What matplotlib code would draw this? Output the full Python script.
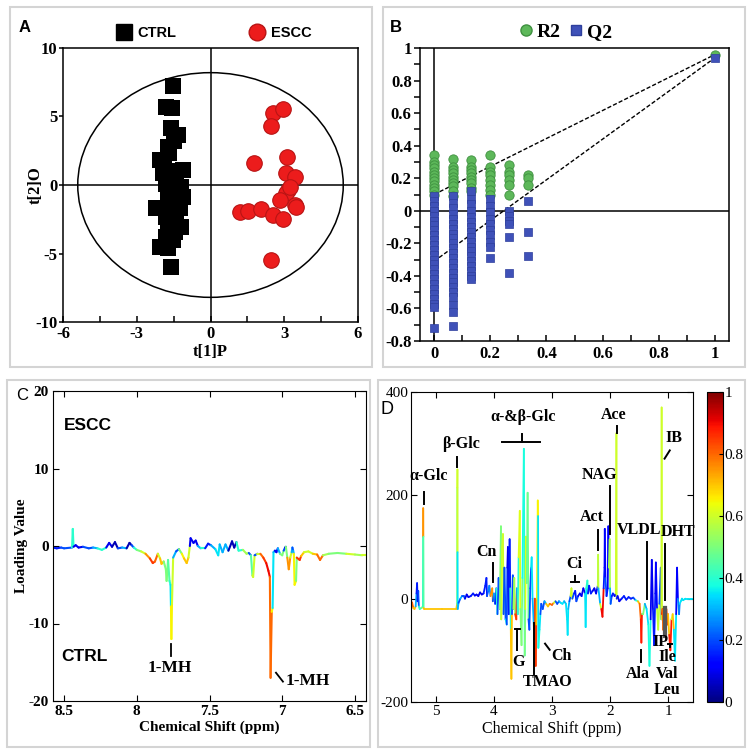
import numpy as np
import matplotlib
matplotlib.use('Agg')
import matplotlib.pyplot as plt
from matplotlib.collections import LineCollection
from matplotlib.colors import Normalize
from matplotlib.patches import Ellipse, Rectangle
from matplotlib.lines import Line2D
import matplotlib.ticker as mt
import matplotlib.colorbar as mcb

plt.rcParams['axes.unicode_minus'] = False
SERIF = 'Liberation Serif'
SANS = 'Liberation Sans'

# ---------------- Panel A data (OPLS-DA scores) ----------------
ctrl_x = [-1.53, -1.82, -1.57, -1.60, -1.32, -1.73, -2.07, -1.12, -1.93, -1.53, -1.19, -1.73,
          -1.12, -1.66, -2.20, -1.25, -1.80, -1.39, -1.19, -1.73, -1.53, -2.07, -1.73, -1.60,
          -1.50, -1.70, -1.90, -1.60, -1.40, -1.80, -1.50, -1.35, -1.70, -1.50, -1.65, -1.45,
          -1.80, -1.35, -1.60]
ctrl_y = [7.24, 5.70, 5.60, 4.15, 3.66, 2.80, 1.83, 1.10, 0.85, 0.37, -0.12, -0.49,
          -0.85, -1.20, -1.70, -1.70, -2.30, -2.70, -3.05, -3.17, -4.00, -4.50, -4.63, -5.98,
          3.20, 2.30, 1.30, 1.00, 0.60, 0.10, -0.40, -1.00, -1.50, -2.00, -2.70, -3.40,
          -3.80, -1.40, -0.90]
escc_x = [2.54, 2.95, 2.47, 1.76, 3.11, 3.06, 3.42, 3.15, 3.08, 2.81, 3.42, 3.49, 1.19, 1.53,
          2.07, 2.54, 2.95, 2.47, 3.22]
escc_y = [5.24, 5.54, 4.32, 1.63, 2.07, 0.85, 0.61, -0.37, -0.61, -1.10, -1.46, -1.59, -2.00,
          -1.88, -1.78, -2.20, -2.49, -5.49, -0.12]
ellipse_half_axes = (5.4, 8.2)

# ---------------- Panel B data (permutation test) ----------------
perm_x = [0.0, 0.067, 0.133, 0.2, 0.267, 0.333]
r2_cols = [
    [0.34, 0.30, 0.28, 0.26, 0.24, 0.22, 0.20, 0.18, 0.16, 0.14, 0.12, 0.10],
    [0.32, 0.27, 0.25, 0.23, 0.21, 0.19, 0.17, 0.15, 0.12, 0.09],
    [0.31, 0.27, 0.25, 0.23, 0.21, 0.19, 0.17, 0.14, 0.12],
    [0.34, 0.27, 0.24, 0.22, 0.19, 0.16, 0.13, 0.10],
    [0.28, 0.24, 0.22, 0.19, 0.16, 0.10],
    [0.22, 0.20, 0.16],
]
q2_cols = [
    [0.09, 0.06, 0.03, 0.0, -0.03, -0.06, -0.09, -0.12, -0.15, -0.18, -0.21, -0.24, -0.27,
     -0.30, -0.33, -0.36, -0.39, -0.42, -0.45, -0.48, -0.51, -0.54, -0.57, -0.59, -0.72],
    [0.09, 0.05, 0.02, -0.02, -0.05, -0.08, -0.11, -0.14, -0.17, -0.20, -0.23, -0.26, -0.29,
     -0.32, -0.35, -0.38, -0.41, -0.44, -0.47, -0.50, -0.53, -0.58, -0.62, -0.71],
    [0.12, 0.07, 0.04, 0.0, -0.04, -0.07, -0.10, -0.13, -0.16, -0.19, -0.22, -0.25, -0.28,
     -0.31, -0.34, -0.37, -0.40, -0.42],
    [0.07, 0.03, -0.01, -0.05, -0.08, -0.12, -0.15, -0.19, -0.22, -0.29],
    [0.0, -0.03, -0.06, -0.08, -0.16, -0.38],
    [0.06, -0.13, -0.28],
]
orig_x = 1.0
orig_r2 = 0.96
orig_q2 = 0.94
r2_intercept = 0.10
q2_intercept = -0.31

# ---------------- Panel C data (aromatic loadings) ----------------
c_ppm = [8.58, 8.55, 8.52, 8.50, 8.445, 8.44, 8.435, 8.42, 8.40, 8.37,
         8.33, 8.30, 8.27, 8.24, 8.21, 8.19, 8.17, 8.15, 8.13, 8.10,
         8.07, 8.05, 8.035, 8.02, 8.0, 7.97, 7.94, 7.91, 7.89, 7.875,
         7.855, 7.84, 7.83, 7.815, 7.80, 7.795, 7.785, 7.775, 7.768, 7.765,
         7.762, 7.758, 7.75, 7.73, 7.71, 7.69, 7.675, 7.657, 7.645, 7.635,
         7.63, 7.61, 7.595, 7.58, 7.56, 7.53, 7.51, 7.49, 7.46, 7.44,
         7.43, 7.41, 7.39, 7.37, 7.345, 7.33, 7.315, 7.30, 7.27, 7.245,
         7.23, 7.215, 7.205, 7.20, 7.19, 7.17, 7.15, 7.13, 7.11, 7.095,
         7.085, 7.08, 7.072, 7.066, 7.06, 7.05, 7.04, 7.03, 7.015, 7.0,
         6.99, 6.98, 6.975, 6.965, 6.955, 6.945, 6.935, 6.93, 6.925, 6.92,
         6.915, 6.905, 6.90, 6.88, 6.87, 6.85, 6.82, 6.79, 6.76, 6.74,
         6.72, 6.68, 6.62, 6.56, 6.50, 6.45, 6.42]
c_val = [-0.2, -0.3, -0.2, -0.3, -0.2, 2.2, -0.1, 0.1, -0.2, -0.1,
         -0.3, -0.2, -0.3, -0.5, -0.2, 0.4, -0.1, 0.5, -0.3, -0.2,
         -0.3, 0.4, 0.1, -0.2, -0.5, -0.7, -1.0, -1.6, -2.2, -2.0,
         -1.0, -1.6, -2.3, -2.0, -3.0, -4.5, -1.8, -4.5, -5.0, -7.8,
         -12.0, -7.5, -1.5, -0.7, -0.4, -1.0, -1.6, -2.2, -1.5, 0.0,
         1.0, 0.4, 0.7, 0.0, -0.3, -0.3, 0.3, 0.1, -0.4, -1.2,
         0.2, -0.8, 0.2, -0.6, 0.6, -0.2, 0.5, -0.6, -0.5, -1.0,
         -0.9, -1.2, -3.8, -4.0, -1.2, -1.0, -1.0, -1.5, -2.2, -3.2,
         -4.0, -17.0, -8.5, -8.0, -0.8, -0.6, -0.8, -0.3, -1.0, -1.2,
         -0.6, -0.2, -0.1, -1.5, -3.0, -1.5, -0.8, -0.2, -0.6, -1.0,
         -5.0, -4.5, -1.5, -1.8, -1.3, -0.8, -0.7, -1.0, -1.1, -1.8,
         -1.2, -1.0, -0.9, -1.0, -1.1, -1.2, -1.2]
c_w = [0.10, 0.15, 0.10, 0.20, 0.30, 0.40, 0.30, 0.10, 0.10, 0.15,
       0.20, 0.10, 0.30, 0.40, 0.30, 0.10, 0.10, 0.05, 0.20, 0.30,
       0.30, 0.05, 0.10, 0.20, 0.40, 0.50, 0.60, 0.75, 0.85, 0.80,
       0.55, 0.60, 0.70, 0.55, 0.50, 0.50, 0.40, 0.45, 0.40, 0.35,
       0.65, 0.60, 0.30, 0.20, 0.15, 0.50, 0.65, 0.70, 0.60, 0.20,
       0.10, 0.20, 0.10, 0.20, 0.30, 0.40, 0.15, 0.20, 0.30, 0.35,
       0.10, 0.30, 0.10, 0.30, 0.05, 0.10, 0.05, 0.40, 0.50, 0.55,
       0.40, 0.20, 0.45, 0.60, 0.20, 0.30, 0.60, 0.80, 0.85, 0.90,
       0.90, 0.80, 0.65, 0.35, 0.30, 0.20, 0.10, 0.10, 0.30, 0.50,
       0.20, 0.10, 0.10, 0.50, 0.75, 0.60, 0.30, 0.10, 0.20, 0.30,
       0.65, 0.50, 0.50, 0.85, 0.70, 0.60, 0.55, 0.60, 0.70, 0.80,
       0.55, 0.50, 0.55, 0.50, 0.60, 0.55, 0.60]

# ---------------- Panel D data (aliphatic loadings) ----------------
d_ppm = [5.43, 5.41, 5.39, 5.37, 5.35, 5.335, 5.325, 5.315, 5.305, 5.295,
         5.28, 5.25, 5.225, 5.222, 5.22, 5.217, 5.213, 5.20, 4.90, 4.65,
         4.635, 4.632, 4.63, 4.628, 4.625, 4.61, 4.58, 4.55, 4.52, 4.50,
         4.47, 4.44, 4.40, 4.36, 4.33, 4.30, 4.27, 4.24, 4.21, 4.18,
         4.15, 4.13, 4.12, 4.10, 4.08, 4.06, 4.03, 4.02, 4.00, 3.98,
         3.96, 3.94, 3.92, 3.90, 3.88, 3.875, 3.86, 3.845, 3.835, 3.82,
         3.80, 3.78, 3.77, 3.76, 3.745, 3.73, 3.72, 3.71, 3.70, 3.69,
         3.675, 3.665, 3.65, 3.635, 3.615, 3.605, 3.59, 3.575, 3.555, 3.545,
         3.525, 3.51, 3.485, 3.47, 3.46, 3.45, 3.435, 3.42, 3.405, 3.39,
         3.375, 3.36, 3.35, 3.335, 3.31, 3.295, 3.28, 3.27, 3.26, 3.245,
         3.24, 3.235, 3.215, 3.20, 3.185, 3.16, 3.13, 3.10, 3.07, 3.04,
         3.00, 2.97, 2.94, 2.91, 2.88, 2.85, 2.82, 2.79, 2.76, 2.74,
         2.73, 2.72, 2.70, 2.68, 2.665, 2.65, 2.62, 2.60, 2.58, 2.55,
         2.52, 2.49, 2.46, 2.43, 2.42, 2.41, 2.39, 2.38, 2.36, 2.33,
         2.30, 2.27, 2.24, 2.21, 2.205, 2.20, 2.17, 2.15, 2.13, 2.11,
         2.095, 2.09, 2.08, 2.06, 2.04, 2.03, 2.02, 2.005, 2.00, 1.99,
         1.97, 1.95, 1.92, 1.90, 1.89, 1.885, 1.87, 1.84, 1.80, 1.76,
         1.72, 1.68, 1.64, 1.60, 1.56, 1.52, 1.49, 1.47, 1.46, 1.45,
         1.43, 1.40, 1.37, 1.34, 1.32, 1.30, 1.28, 1.26, 1.24, 1.22,
         1.21, 1.19, 1.17, 1.15, 1.125, 1.115, 1.11, 1.105, 1.095, 1.085,
         1.07, 1.06, 1.04, 1.03, 1.01, 1.00, 0.98, 0.96, 0.94, 0.92,
         0.90, 0.88, 0.86, 0.845, 0.83, 0.81, 0.80, 0.78, 0.76, 0.74,
         0.70, 0.65, 0.60, 0.57]
d_val = [-5, -8, -18, -20, -15, 10, 30, -5, 15, -15,
         -20, -18, -15, 120, 175, 120, -18, -20, -20, -20,
         -10, 215, 250, 90, -20, -8, 0, 5, 5, 0,
         8, 3, 5, 10, 6, 8, 5, 12, 8, 10,
         25, 40, 5, 15, 25, 5, 20, -5, 10, -10,
         20, -30, 40, -20, 140, -40, 100, 125, -30, 60,
         -40, -50, 60, 100, -30, 115, 20, -60, -155, -30,
         45, -20, 40, -30, -40, 20, -30, 80, 170, -20,
         -90, 40, 290, -110, -20, 120, 30, 205, -40, -60,
         20, 60, 80, 0, -60, 0, -130, -50, 0, 190,
         160, -95, -60, -30, -10, -20, -5, -10, -15, -10,
         -12, -8, -5, -10, -5, -8, -10, -5, -10, -40,
         -70, -20, -5, 5, 20, 0, 10, 15, -5, 5,
         10, 5, 20, 10, -55, 20, 35, 10, 25, 10,
         15, 20, 10, 25, 85, 20, -10, -20, -35, 20,
         60, 135, 40, 5, 20, 140, 60, 115, 20, -10,
         5, 10, 5, 10, 320, 0, 5, -5, 0, 5,
         -2, 3, 0, 2, -3, -5, -10, -40, -85, -30,
         -30, -10, -20, -50, -130, -40, 75, -20, -90, 10,
         70, -20, -60, -10, 60, -40, 370, -30, -20, -60,
         -45, -30, -60, -20, -50, -30, -70, -100, -40, -30,
         -60, -120, -30, 60, 0, -30, -10, -5, 0, -3,
         0, 0, 0, 0]
d_w = [0.80, 0.85, 0.80, 0.70, 0.30, 0.20, 0.15, 0.15, 0.10, 0.20,
       0.40, 0.50, 0.40, 0.40, 0.75, 0.45, 0.40, 0.70, 0.70, 0.70,
       0.30, 0.50, 0.60, 0.35, 0.30, 0.20, 0.45, 0.30, 0.20, 0.15,
       0.10, 0.15, 0.10, 0.15, 0.20, 0.10, 0.15, 0.10, 0.20, 0.10,
       0.15, 0.15, 0.20, 0.20, 0.25, 0.30, 0.75, 0.40, 0.20, 0.30,
       0.15, 0.40, 0.20, 0.50, 0.50, 0.40, 0.60, 0.60, 0.40, 0.20,
       0.35, 0.35, 0.20, 0.10, 0.20, 0.15, 0.10, 0.40, 0.70, 0.50,
       0.20, 0.30, 0.55, 0.70, 0.85, 0.30, 0.30, 0.40, 0.62, 0.50,
       0.50, 0.20, 0.38, 0.50, 0.20, 0.62, 0.30, 0.48, 0.30, 0.20,
       0.10, 0.20, 0.35, 0.20, 0.30, 0.40, 0.85, 0.70, 0.40, 0.65,
       0.35, 0.38, 0.35, 0.20, 0.15, 0.20, 0.15, 0.30, 0.70, 0.50,
       0.80, 0.60, 0.30, 0.20, 0.15, 0.30, 0.35, 0.30, 0.30, 0.35,
       0.35, 0.30, 0.20, 0.20, 0.60, 0.30, 0.20, 0.15, 0.10, 0.20,
       0.10, 0.15, 0.10, 0.10, 0.35, 0.30, 0.40, 0.20, 0.15, 0.10,
       0.15, 0.10, 0.15, 0.10, 0.58, 0.30, 0.40, 0.60, 0.90, 0.30,
       0.15, 0.12, 0.20, 0.20, 0.15, 0.12, 0.20, 0.55, 0.30, 0.20,
       0.10, 0.15, 0.10, 0.10, 0.60, 0.20, 0.15, 0.10, 0.10, 0.15,
       0.10, 0.15, 0.10, 0.15, 0.20, 0.40, 0.70, 0.80, 0.88, 0.70,
       0.50, 0.20, 0.30, 0.35, 0.38, 0.20, 0.10, 0.10, 0.15, 0.10,
       0.12, 0.20, 0.58, 0.30, 0.20, 0.50, 0.60, 0.90, 0.60, 0.80,
       0.88, 0.60, 0.80, 0.40, 0.85, 0.70, 0.70, 0.88, 0.60, 0.80,
       0.70, 0.35, 0.30, 0.12, 0.20, 0.25, 0.35, 0.35, 0.35, 0.35,
       0.35, 0.35, 0.35, 0.35]

# Panel D annotations: (text, x_ppm, y_value, ha)
d_labels = [('α-Glc', 5.13, 237, 'center'), ('β-Glc', 4.56, 300, 'center'),
            ('α-&β-Glc', 3.50, 352, 'center'), ('Cn', 4.13, 90, 'center'),
            ('Ci', 2.62, 68, 'center'), ('Act', 2.32, 158, 'center'),
            ('NAG', 2.19, 240, 'center'), ('Ace', 1.93, 356, 'center'),
            ('IB', 0.90, 310, 'center'), ('VLDL', 1.50, 132, 'center'),
            ('DHT', 0.83, 129, 'center'), ('Ala', 1.52, -145, 'center'),
            ('G', 3.58, -123, 'center'), ('TMAO', 3.08, -161, 'center'),
            ('Ch', 2.84, -110, 'center'), ('IP', 1.13, -84, 'center'),
            ('Ile', 1.01, -113, 'center'), ('Val', 1.01, -145, 'center'),
            ('Leu', 1.01, -177, 'center')]
# marker segments (x0, y0, x1, y1)
d_marks = [(5.21, 206, 5.21, 184), (4.63, 275, 4.63, 255), (3.86, 303, 3.21, 303),
           (3.525, 319, 3.525, 303), (4.02, 69, 4.02, 32), (2.61, 43, 2.61, 32),
           (2.68, 32, 2.53, 32), (2.205, 132, 2.205, 94), (2.0, 219, 2.0, 126),
           (1.88, 334, 1.88, 321), (1.06, 271, 0.97, 287), (1.37, 110, 1.37, 0),
           (1.05, 106, 1.05, -3), (1.46, -100, 1.46, -123), (3.63, -58, 3.56, -58),
           (3.595, -58, 3.595, -99), (3.31, -48, 3.31, -145), (3.12, -87, 3.04, -99),
           (1.005, -87, 0.935, -87), (0.97, -87, 0.97, -94)]
d_gray = [(1.075, -16, 1.075, -74), (1.035, -16, 1.035, -74)]

# C annotations
c_labels = [('1-MH', 7.77, -15.7, 'center'), ('1-MH', 6.975, -17.4, 'left')]
c_marks = [(7.765, -12.6, 7.765, -14.2), (7.043, -16.35, 6.995, -17.5)]

# ---------------- Figure ----------------
W, H = 755, 754
fig = plt.figure(figsize=(W / 100, H / 100), dpi=100)


def box(l, t, r, b):
    return [l / W, 1 - b / H, (r - l) / W, (b - t) / H]


# light grey frames around panels
for (l, t, r, b) in [(10, 7, 372, 367), (383, 7, 745, 367), (7, 380, 370, 747), (378, 380, 745, 747)]:
    fig.add_artist(Rectangle((l / W, 1 - b / H), (r - l) / W, (b - t) / H, transform=fig.transFigure,
                             fill=False, ec='#d4d4d4', lw=1.5))


def style_ticks(ax, size=11, weight='bold'):
    for lab in ax.get_xticklabels() + ax.get_yticklabels():
        lab.set_fontfamily(SERIF)
        lab.set_fontweight(weight)
        lab.set_fontsize(size)


# ---- Panel A ----
axA = fig.add_axes(box(63, 48, 358, 322))
axA.set_xlim(-6, 6)
axA.set_ylim(-10, 10)
axA.axhline(0, color='black', lw=1.1, zorder=1)
axA.axvline(0, color='black', lw=1.1, zorder=1)
axA.add_patch(Ellipse((0, 0), 2 * ellipse_half_axes[0], 2 * ellipse_half_axes[1], fill=False,
                      ec='black', lw=1.1, zorder=1))
axA.scatter(ctrl_x, ctrl_y, marker='s', s=120, c='black', zorder=3, linewidths=0)
axA.scatter(escc_x, escc_y, marker='o', s=125, c='#ec1c1c', edgecolors='#b81414',
            linewidths=0.8, zorder=3)
axA.set_xticks([-6, -3, 0, 3, 6])
axA.set_yticks([-10, -5, 0, 5, 10])
axA.xaxis.set_minor_locator(mt.MultipleLocator(1.5))
axA.tick_params(axis='x', which='both', direction='in', length=4, width=1.1, pad=3)
axA.tick_params(axis='y', which='both', direction='out', length=3, width=1.1, pad=1)
for s in axA.spines.values():
    s.set_linewidth(1.1)
style_ticks(axA, 12)
axA.set_xlabel('t[1]P', fontfamily=SERIF, fontweight='bold', fontsize=12, labelpad=1)
axA.set_ylabel('t[2]O', fontfamily=SERIF, fontweight='bold', fontsize=12)
axA.yaxis.set_label_coords(-0.065, 0.5)
fig.text(25 / W, 1 - 27 / H, 'A', fontfamily=SANS, fontweight='bold', fontsize=12,
         ha='center', va='center')
hA = [Line2D([], [], marker='s', ls='none', color='black', markersize=11),
      Line2D([], [], marker='o', ls='none', color='#ec1c1c', markeredgecolor='#b81414', markersize=12)]
fig.legend(hA, ['CTRL', 'ESCC'], loc='center', bbox_to_anchor=(214 / W, 1 - 33 / H), ncol=2,
           frameon=False, handletextpad=0.45, columnspacing=5.0, handlelength=1.0,
           prop=dict(family=SANS, weight='bold', size=10.5))

# ---- Panel B ----
axB = fig.add_axes(box(420, 48, 729, 341))
axB.set_xlim(-0.05, 1.05)
axB.set_ylim(-0.8, 1.0)
axB.axhline(0, color='black', lw=1.1, zorder=1)
axB.axvline(0, color='black', lw=1.1, zorder=1)
axB.plot([0, orig_x], [r2_intercept, orig_r2], ls=(0, (3, 1.5)), color='black', lw=1.0, zorder=2)
axB.plot([0, orig_x], [q2_intercept, orig_q2], ls=(0, (3, 1.5)), color='black', lw=1.0, zorder=2)
GREEN, GREEN_E = '#5db85a', '#3f9040'
BLUE, BLUE_E = '#3f51b8', '#2e3f9c'
for xv, col in zip(perm_x, r2_cols):
    axB.scatter([xv] * len(col), col, marker='o', s=45, c=GREEN, edgecolors=GREEN_E,
                linewidths=0.6, zorder=3)
axB.scatter([orig_x], [orig_r2], marker='o', s=45, c=GREEN, edgecolors=GREEN_E, linewidths=0.6, zorder=3)
for xv, col in zip(perm_x, q2_cols):
    axB.scatter([xv] * len(col), col, marker='s', s=36, c=BLUE, edgecolors=BLUE_E,
                linewidths=0.5, zorder=4)
axB.scatter([orig_x], [orig_q2], marker='s', s=36, c=BLUE, edgecolors=BLUE_E, linewidths=0.5, zorder=4)
axB.set_xticks([0, 0.2, 0.4, 0.6, 0.8, 1.0])
axB.set_xticklabels(['0', '0.2', '0.4', '0.6', '0.8', '1'])
axB.set_yticks([-0.8, -0.6, -0.4, -0.2, 0, 0.2, 0.4, 0.6, 0.8, 1.0])
axB.set_yticklabels(['-0.8', '-0.6', '-0.4', '-0.2', '0', '0.2', '0.4', '0.6', '0.8', '1'])
axB.xaxis.set_minor_locator(mt.MultipleLocator(0.1))
axB.yaxis.set_minor_locator(mt.MultipleLocator(0.1))
axB.tick_params(axis='x', which='both', direction='in', length=4, width=1.1)
axB.tick_params(axis='y', which='both', direction='out', length=4, width=1.1, pad=2)
for s in axB.spines.values():
    s.set_linewidth(1.1)
style_ticks(axB, 12)
fig.text(396 / W, 1 - 27 / H, 'B', fontfamily=SANS, fontweight='bold', fontsize=12,
         ha='center', va='center')
hB = [Line2D([], [], marker='o', ls='none', color=GREEN, markeredgecolor=GREEN_E, markersize=8),
      Line2D([], [], marker='s', ls='none', color=BLUE, markeredgecolor=BLUE_E, markersize=7)]
fig.legend(hB, ['R2', 'Q2'], loc='center', bbox_to_anchor=(564 / W, 1 - 32 / H), ncol=2,
           frameon=False, handletextpad=0.05, columnspacing=0.3, handlelength=1.0,
           prop=dict(family=SERIF, weight='bold', size=14))


# ---- spectrum helper ----
def draw_spectrum(ax, ppm, val, w, lw=1.3):
    ppm = np.asarray(ppm, float)
    val = np.asarray(val, float)
    w = np.asarray(w, float)
    n = min(len(ppm), len(val), len(w))
    ppm, val, w = ppm[:n], val[:n], w[:n]
    pts = np.column_stack([ppm, val])
    segs = np.stack([pts[:-1], pts[1:]], axis=1)
    a, b = np.abs(val[:-1]), np.abs(val[1:])
    seg_w = np.where(b >= a, w[1:], w[:-1])
    lc = LineCollection(segs, cmap='jet', norm=Normalize(0, 1), linewidths=lw,
                        capstyle='round', joinstyle='round')
    lc.set_array(seg_w)
    ax.add_collection(lc)


# ---- Panel C ----
axC = fig.add_axes(box(53, 391, 366, 701))
draw_spectrum(axC, c_ppm, c_val, c_w, lw=1.5)
axC.set_xlim(8.576, 6.424)
axC.set_ylim(-20, 20)
axC.set_xticks([8.5, 8, 7.5, 7, 6.5])
axC.set_xticklabels(['8.5', '8', '7.5', '7', '6.5'])
axC.set_yticks([-20, -10, 0, 10, 20])
axC.tick_params(direction='in', top=True, right=True, length=4, width=0.8, pad=3)
style_ticks(axC, 11)
axC.set_xlabel('Chemical Shift (ppm)', fontfamily=SERIF, fontweight='bold', fontsize=11, labelpad=2)
axC.set_ylabel('Loading Value', fontfamily=SERIF, fontweight='bold', fontsize=11)
axC.yaxis.set_label_coords(-0.08, 0.5)
axC.text(8.50, 15.6, 'ESCC', fontfamily=SANS, fontweight='bold', fontsize=12.5, ha='left', va='center')
axC.text(8.52, -14.3, 'CTRL', fontfamily=SANS, fontweight='bold', fontsize=12.5, ha='left', va='center')
for (t, x, y, ha) in c_labels:
    axC.text(x, y, t, fontfamily=SERIF, fontweight='bold', fontsize=12.5, ha=ha, va='center')
for (x0, y0, x1, y1) in c_marks:
    axC.plot([x0, x1], [y0, y1], color='black', lw=1.3)
fig.text(22 / W, 1 - 395 / H, 'C', fontfamily=SANS, fontsize=12, ha='center', va='center')

# ---- Panel D ----
axD = fig.add_axes(box(411, 392, 693, 702))
draw_spectrum(axD, d_ppm, d_val, d_w, lw=1.3)
axD.set_xlim(5.43, 0.57)
axD.set_ylim(-200, 400)
axD.set_xticks([5, 4, 3, 2, 1])
axD.set_yticks([-200, 0, 200, 400])
axD.tick_params(direction='in', top=True, right=True, length=4, width=0.8, pad=2)
style_ticks(axD, 11, 'normal')
axD.set_xlabel('Chemical Shift (ppm)', fontfamily=SERIF, fontsize=11.5, labelpad=2)
for (t, x, y, ha) in d_labels:
    axD.text(x, y, t, fontfamily=SERIF, fontweight='bold', fontsize=11.5, ha=ha, va='center')
for (x0, y0, x1, y1) in d_marks:
    axD.plot([x0, x1], [y0, y1], color='black', lw=1.4)
for (x0, y0, x1, y1) in d_gray:
    axD.plot([x0, x1], [y0, y1], color='#555555', lw=1.6)
fig.text(387 / W, 1 - 409 / H, 'D', fontfamily=SANS, fontsize=13, ha='center', va='center')

# colorbar
axCB = fig.add_axes(box(707, 392, 723, 702))
cb = mcb.ColorbarBase(axCB, cmap='jet', norm=Normalize(0, 1), orientation='vertical')
cb.set_ticks([0, 0.2, 0.4, 0.6, 0.8, 1.0])
cb.set_ticklabels(['0', '0.2', '0.4', '0.6', '0.8', '1'])
axCB.tick_params(direction='in', length=3, width=0.8, pad=1)
for lab in axCB.get_yticklabels():
    lab.set_fontfamily(SERIF)
    lab.set_fontsize(11)
cb.outline.set_linewidth(0.8)

fig.savefig('out.png', dpi=100)
